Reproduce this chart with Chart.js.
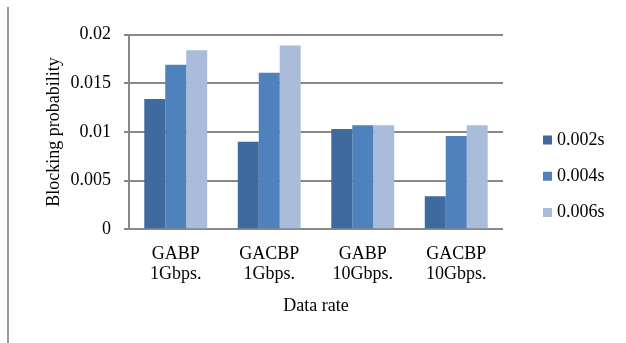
<!DOCTYPE html>
<html>
<head>
<meta charset="utf-8">
<script src="https://cdn.jsdelivr.net/npm/chart.js@4/dist/chart.umd.min.js"></script>
<style>
  html, body { margin: 0; padding: 0; background: #ffffff; }
  #wrap { position: relative; width: 626px; height: 343px; }
  #frame { position: absolute; left: 7px; top: 7px; width: 2px; height: 336px; background: #9a9a9a; }
  canvas { position: absolute; left: 0; top: 0; }
</style>
</head>
<body>
<div id="wrap">
  <div id="frame"></div>
  <canvas id="chart" width="626" height="343"></canvas>
</div>
<script>
// Categories (data rate / scheme), drawn as two-line labels
const categories = [
  ['GABP', '1Gbps.'],
  ['GACBP', '1Gbps.'],
  ['GABP', '10Gbps.'],
  ['GACBP', '10Gbps.']
];

// Series names (burst offset time)
const seriesNames = ['0.002s', '0.004s', '0.006s'];

// Blocking probability per series
const values002 = [0.0134, 0.0090, 0.0103, 0.0034];
const values004 = [0.0169, 0.0161, 0.0107, 0.0096];
const values006 = [0.0184, 0.0189, 0.0107, 0.0107];

// Y axis ticks
const yTicks = [0, 0.005, 0.01, 0.015, 0.02];
const yTickLabels = ['0', '0.005', '0.01', '0.015', '0.02'];

const colors = ['#3E6A9E', '#4F81BD', '#A9BCDA'];
const FONT = "'Liberation Serif', 'Times New Roman', serif";
const gridGray = '#888888';

const seriesValues = [values002, values004, values006];

new Chart(document.getElementById('chart'), {
  type: 'bar',
  data: {
    labels: categories,
    datasets: seriesNames.map((name, i) => ({
      label: name,
      data: seriesValues[i],
      backgroundColor: colors[i],
      borderWidth: 0,
      categoryPercentage: 0.673,
      barPercentage: 1.0
    }))
  },
  options: {
    responsive: false,
    animation: false,
    devicePixelRatio: 1,
    layout: { padding: { left: 40, right: 11.5, top: 34.7, bottom: 25.2 } },
    plugins: {
      tooltip: { enabled: false },
      legend: {
        position: 'right',
        align: 'center',
        labels: {
          font: { family: FONT, size: 18 },
          color: '#000',
          usePointStyle: true,
          pointStyle: 'rect',
          boxWidth: 1,
          boxHeight: 9,
          padding: 18.25
        }
      }
    },
    scales: {
      x: {
        grid: { display: true, color: 'transparent', drawTicks: true, tickLength: 15.2 },
        border: { display: true, color: gridGray, width: 2 },
        ticks: {
          font: { family: FONT, size: 18, lineHeight: 1.1 },
          color: '#000',
          padding: 0,
          maxRotation: 0,
          autoSkip: false
        },
        title: {
          display: true,
          text: 'Data rate',
          font: { family: FONT, size: 18 },
          color: '#000',
          padding: { top: 11.6, bottom: 0.5 }
        }
      },
      y: {
        min: 0,
        max: 0.02,
        afterBuildTicks: (scale) => { scale.ticks = yTicks.map(v => ({ value: v })); },
        afterFit: (scale) => { scale.width = 89; },
        grid: { color: gridGray, lineWidth: 2, drawTicks: true, tickLength: 5 },
        border: { display: true, color: gridGray, width: 2 },
        ticks: {
          font: { family: FONT, size: 18 },
          color: '#000',
          padding: 13,
          callback: (value, index) => yTickLabels[index]
        },
        title: {
          display: true,
          text: 'Blocking probability',
          font: { family: FONT, size: 18 },
          color: '#000',
          padding: { top: 3.7, bottom: 0 }
        }
      },
      gap: {
        type: 'linear',
        position: 'right',
        display: true,
        grid: { display: false },
        border: { display: false },
        ticks: { display: false },
        afterFit: (scale) => { scale.width = 25.75; }
      }
    }
  }
});
</script>
</body>
</html>
